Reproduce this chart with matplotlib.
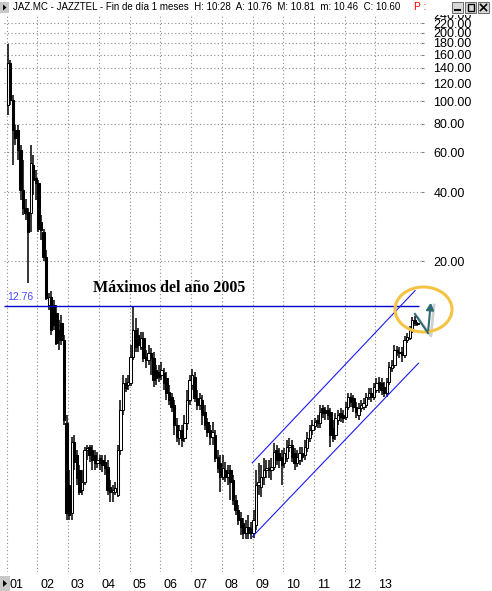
import matplotlib
matplotlib.use('Agg')
import matplotlib.pyplot as plt
import matplotlib.transforms as mtransforms
from matplotlib.patches import Ellipse, Rectangle, Polygon, FancyArrowPatch
from matplotlib.lines import Line2D
from matplotlib.ticker import FixedLocator, NullLocator, FixedFormatter
import numpy as np

plt.rcParams['font.family'] = ['Liberation Sans', 'DejaVu Sans']

# ---------------- data (monthly candles, Jan 2001 .. May 2014) ----------------
opens = [96.0, 146.5, 101.0, 74.7, 74.7, 61.1, 40.8, 34.1, 32.7, 32.4, 52.5, 46.1,
         43.8, 29.6, 26.8, 20.8, 12.85, 13.9, 12.85, 11.86, 9.99, 10.72, 9.04, 3.92,
         2.10, 1.59, 3.25, 2.85, 2.45, 2.00, 2.17, 2.99, 3.09, 2.99, 2.85, 2.62,
         2.76, 2.71, 2.65, 2.52, 2.06, 1.96, 1.96, 1.90, 2.99, 4.47, 5.87, 5.75,
         5.87, 7.61, 9.99, 9.50, 8.43, 9.22, 7.61, 7.39, 7.93, 7.54, 6.68, 6.55,
         6.36, 6.49, 6.17, 5.36, 5.10, 4.70, 3.85, 3.38, 3.66, 3.38, 3.92, 4.94,
         5.75, 6.23, 5.04, 4.70, 4.94, 4.38, 3.96, 3.66, 3.41, 3.48, 2.79, 2.62,
         2.28, 2.45, 2.28, 2.45, 2.21, 1.81, 1.64, 1.51, 1.44, 1.30, 1.38, 1.37,
         1.30, 1.41, 2.10, 2.06, 2.28, 2.45, 2.50, 2.45, 2.52, 2.99, 2.91, 2.79,
         2.62, 2.76, 3.09, 3.15, 2.91, 2.62, 2.71, 2.91, 2.85, 3.05, 3.38, 3.66,
         3.81, 4.04, 3.92, 4.56, 4.47, 4.47, 4.38, 3.73, 3.48, 4.04, 4.34, 4.25,
         4.16, 4.61, 5.10, 5.04, 4.61, 4.25, 4.56, 4.61, 4.70, 5.10, 5.31, 5.10,
         5.47, 5.93, 5.87, 5.64, 5.31, 5.93, 6.82, 7.03, 8.17, 8.01, 8.01, 7.77,
         9.04, 9.22, 9.99, 11.05, 10.76]
highs = [179, 151, 106.2, 78.5, 78.5, 64.2, 55.2, 37.6, 34.1, 64.2, 58.1, 49.9,
         45.2, 31.8, 27.8, 22.3, 14.6, 14.9, 13.5, 12.85, 11.05, 11.62, 9.50, 4.25,
         2.45, 3.41, 3.48, 2.99, 2.57, 2.45, 3.09, 3.15, 3.15, 3.15, 2.99, 2.93,
         2.85, 2.85, 2.85, 2.71, 2.21, 2.10, 2.17, 3.15, 4.94, 6.36, 6.17, 6.36,
         8.60, 12.76, 11.28, 10.2, 9.79, 9.79, 8.17, 8.60, 8.34, 8.01, 7.03, 7.03,
         7.25, 6.82, 6.55, 5.75, 5.31, 4.94, 4.12, 3.85, 3.85, 4.25, 5.47, 6.36,
         6.75, 6.55, 5.47, 5.31, 5.20, 4.70, 4.12, 3.85, 3.96, 3.66, 2.99, 2.85,
         2.85, 2.65, 2.57, 2.57, 2.33, 1.90, 1.72, 1.61, 1.51, 1.48, 1.56, 1.45,
         1.64, 2.45, 2.62, 2.57, 2.76, 2.71, 2.71, 2.76, 3.21, 3.15, 3.05, 2.99,
         3.05, 3.31, 3.38, 3.31, 3.05, 2.99, 3.09, 3.09, 3.31, 3.59, 3.85, 4.04,
         4.12, 4.25, 4.70, 4.70, 4.61, 4.70, 4.56, 4.04, 4.34, 4.47, 4.56, 4.47,
         4.84, 5.31, 5.31, 5.20, 4.84, 4.79, 4.94, 5.04, 5.31, 5.58, 5.58, 5.87,
         6.17, 6.23, 6.17, 5.93, 6.17, 7.25, 7.39, 8.60, 8.51, 8.43, 8.43, 9.40,
         9.69, 10.40, 11.40, 11.51, 10.81]
lows = [86.8, 96.0, 52.5, 64.2, 55.2, 36.9, 31.8, 30.2, 16.0, 26.8, 38.8, 36.9,
        26.8, 24.7, 20.0, 13.5, 12.22, 9.50, 9.99, 8.60, 8.17, 8.60, 3.85, 1.48,
        1.48, 1.48, 2.45, 2.10, 1.90, 1.90, 2.10, 2.71, 2.65, 2.45, 2.45, 2.50,
        2.45, 2.40, 2.33, 1.90, 1.77, 1.77, 1.90, 1.86, 2.85, 4.25, 5.36, 5.47,
        5.69, 7.39, 8.01, 8.01, 8.17, 7.25, 6.82, 7.03, 6.36, 5.64, 5.75, 5.93,
        6.05, 5.47, 4.94, 4.70, 4.38, 3.48, 3.25, 3.15, 3.09, 3.25, 3.66, 4.70,
        5.47, 4.84, 4.47, 4.47, 3.85, 3.66, 3.41, 3.15, 3.15, 2.65, 2.38, 1.96,
        2.21, 2.17, 2.10, 1.81, 1.72, 1.56, 1.41, 1.27, 1.22, 1.22, 1.22, 1.22,
        1.23, 1.34, 1.90, 1.86, 2.10, 2.26, 2.26, 2.21, 2.45, 2.57, 2.50, 2.10,
        2.50, 2.65, 2.93, 2.65, 2.45, 2.52, 2.57, 2.65, 2.71, 2.93, 3.25, 3.48,
        3.66, 3.73, 3.73, 4.12, 4.04, 4.04, 3.09, 3.25, 3.31, 3.85, 3.96, 3.92,
        4.04, 4.47, 4.61, 4.38, 4.12, 4.04, 4.38, 4.47, 4.56, 4.94, 4.84, 4.94,
        5.31, 5.31, 5.20, 5.10, 5.10, 5.75, 6.55, 6.82, 7.69, 7.54, 7.25, 7.54,
        8.77, 9.04, 9.69, 10.40, 10.46]
closes = [146.5, 101.0, 74.7, 68.9, 61.1, 40.8, 34.1, 32.4, 26.8, 53.6, 45.2, 43.8,
          27.8, 27.3, 20.8, 13.8, 13.9, 9.99, 10.51, 8.77, 9.04, 9.04, 4.04, 1.59,
          1.56, 3.25, 2.65, 2.26, 1.96, 2.17, 2.99, 3.05, 2.85, 2.71, 2.62, 2.71,
          2.62, 2.57, 2.50, 2.00, 1.96, 2.00, 2.04, 2.99, 4.47, 5.87, 5.58, 5.93,
          7.61, 9.99, 8.43, 8.60, 9.22, 7.54, 7.39, 7.93, 7.54, 6.05, 6.17, 6.23,
          6.68, 5.87, 5.31, 4.94, 4.61, 3.85, 3.41, 3.66, 3.31, 3.92, 4.94, 6.05,
          6.36, 5.04, 4.70, 5.04, 4.25, 3.85, 3.59, 3.41, 3.59, 2.76, 2.50, 2.28,
          2.50, 2.28, 2.38, 2.17, 1.81, 1.64, 1.48, 1.38, 1.30, 1.38, 1.30, 1.30,
          1.48, 2.10, 2.17, 2.28, 2.45, 2.50, 2.45, 2.52, 2.93, 2.71, 2.71, 2.57,
          2.91, 3.09, 3.15, 2.79, 2.62, 2.79, 2.91, 2.79, 3.09, 3.38, 3.66, 3.85,
          3.96, 3.92, 4.38, 4.34, 4.34, 4.25, 3.48, 3.38, 4.12, 4.25, 4.16, 4.12,
          4.61, 5.10, 4.84, 4.61, 4.38, 4.56, 4.70, 4.79, 5.10, 5.31, 5.10, 5.64,
          5.87, 5.58, 5.47, 5.31, 5.93, 6.89, 7.03, 8.17, 8.01, 7.93, 7.77, 9.04,
          9.31, 9.99, 11.05, 10.72, 10.60]

year_labels = ['01', '02', '03', '04', '05', '06', '07', '08', '09', '10', '11', '12', '13']
ytick_values = [20, 40, 60, 80, 100, 120, 140, 160, 180, 200, 220, 240]
resistance_level = 12.76
channel_upper_months = [95.5, 159.1]
channel_upper_prices = [2.63, 14.9]
channel_lower_months = [95.5, 160.4]
channel_lower_prices = [1.25, 7.17]
title_text = "JAZ.MC - JAZZTEL - Fin de día 1 meses  H: 10:28  A: 10.76  M: 10.81  m: 10.46  C: 10.60"
annotation_text = "Máximos del año 2005"

# ---------------- figure ----------------
W, H = 492, 591
fig = plt.figure(figsize=(W / 100, H / 100), dpi=100)
fig.patch.set_facecolor('white')


def fx(px):
    return px / W


def fy(py):
    return 1 - py / H


ax = fig.add_axes([fx(4), fy(572), fx(421) - fx(4), fy(14) - fy(572)])
ax.set_yscale('log')
ax.set_ylim(0.877, 241.0)
ax.set_xlim(-1.45, 161.4)
for s in ax.spines.values():
    s.set_visible(False)

o = np.array(opens)
h = np.array(highs)
l = np.array(lows)
c = np.array(closes)
months = np.arange(len(c))
up = c >= o

# grid
grid_kw = dict(color='#8c8c8c', lw=0.8, ls=(0, (1, 2.2)), zorder=1)
for k in range(len(year_labels)):
    ax.axvline(12 * k - 0.4, **grid_kw)
for v in ytick_values:
    ax.axhline(v, **grid_kw)

# candles
ax.vlines(months, l, h, color='black', lw=1.1, zorder=3)
bottoms = np.minimum(o, c)
heights = np.maximum(o, c) - bottoms
ax.bar(months[up], heights[up], bottom=bottoms[up], width=0.92,
       color='white', edgecolor='black', lw=0.75, zorder=4)
ax.bar(months[~up], heights[~up], bottom=bottoms[~up], width=0.92,
       color='black', edgecolor='black', lw=0.75, zorder=4)

# resistance line and channel
ax.hlines(resistance_level, -1.45, 160.7, color='#0000cc', lw=1.0, zorder=5)
ax.plot(channel_upper_months, channel_upper_prices, color='#1a1aff', lw=0.8, zorder=5)
ax.plot(channel_lower_months, channel_lower_prices, color='#1a1aff', lw=0.8, zorder=5)

# y axis on the right
ax.yaxis.tick_right()
ax.yaxis.set_major_locator(FixedLocator(ytick_values))
ax.yaxis.set_major_formatter(FixedFormatter(['%.2f' % v for v in ytick_values]))
ax.yaxis.set_minor_locator(NullLocator())
ax.tick_params(axis='y', length=2, color='#808080', pad=7, labelsize=9, labelcolor='black')
ax.set_xticks([])

# x labels
trans = mtransforms.blended_transform_factory(ax.transData, ax.transAxes)
for k, lab in enumerate(year_labels):
    ax.text(12 * k - 0.4 + 1.1, -0.0235, lab, transform=trans, ha='left', va='center',
            fontsize=9, clip_on=False)

# level label and annotation
fig.text(fx(7), fy(297), '12.76', color='#4646ff', fontsize=7.5, ha='left', va='center')
fig.text(fx(93), fy(288), annotation_text, family='Liberation Serif', fontweight='bold',
         fontsize=11.5, ha='left', va='center')

# highlight ellipse and arrow
fig.patches.append(Ellipse((fx(423.5), fy(309.5)), 57 / W, 45 / H, transform=fig.transFigure,
                           fill=False, edgecolor='#f3c443', lw=2.2, zorder=6))
shadow = Line2D([fx(418), fx(431), fx(434)], [fy(318), fy(336), fy(305)],
                transform=fig.transFigure, color='#bdbdbd', lw=2.0, alpha=0.7, zorder=6)
fig.lines.append(shadow)
fig.lines.append(Line2D([fx(415), fx(428)], [fy(314), fy(333)], transform=fig.transFigure,
                        color='#2e6b73', lw=1.5, zorder=7))
fig.patches.append(FancyArrowPatch((fx(428), fy(333)), (fx(431), fy(300)),
                                   transform=fig.transFigure, arrowstyle='-|>,head_length=4,head_width=2.2',
                                   color='#2e6b73', lw=1.5, zorder=7, mutation_scale=1))

# title bar
fig.patches.append(Rectangle((0, fy(15)), 1, 15 / H, transform=fig.transFigure,
                             facecolor='white', edgecolor='none', zorder=8))
fig.patches.append(Rectangle((fx(0), fy(13)), 9 / W, 11 / H, transform=fig.transFigure,
                             facecolor='#c8c8c8', edgecolor='none', zorder=9))
fig.patches.append(Polygon([(fx(3), fy(4.5)), (fx(3), fy(10.5)), (fx(6.5), fy(7.5))], closed=True,
                           transform=fig.transFigure, facecolor='black', edgecolor='none', zorder=10))
fig.text(fx(13), fy(7.5), title_text, fontsize=7.05, ha='left', va='center', zorder=10)
fig.text(fx(414), fy(7.5), 'P :', fontsize=7.4, color='#ff0000', ha='left', va='center', zorder=10)
for bx, sym in [(452, '_'), (465, '□'), (478, '×')]:
    fig.patches.append(Rectangle((fx(bx), fy(13)), 11 / W, 11 / H, transform=fig.transFigure,
                                 facecolor='#d8d8d8', edgecolor='#555555', lw=0.6, zorder=9))
fig.lines.append(Line2D([fx(455), fx(460)], [fy(10), fy(10)], transform=fig.transFigure,
                        color='black', lw=1.5, zorder=10))
fig.patches.append(Rectangle((fx(467.5), fy(10.5)), 6 / W, 6 / H, transform=fig.transFigure,
                             facecolor='none', edgecolor='black', lw=1.0, zorder=10))
fig.lines.append(Line2D([fx(480.5), fx(486.5)], [fy(4.5), fy(10.5)], transform=fig.transFigure,
                        color='black', lw=1.2, zorder=10))
fig.lines.append(Line2D([fx(480.5), fx(486.5)], [fy(10.5), fy(4.5)], transform=fig.transFigure,
                        color='black', lw=1.2, zorder=10))

# bottom-left small box
fig.patches.append(Rectangle((fx(0), fy(591)), 10 / W, 15 / H, transform=fig.transFigure,
                             facecolor='#c8c8c8', edgecolor='none', zorder=9))
fig.patches.append(Polygon([(fx(3), fy(580)), (fx(3), fy(587)), (fx(7), fy(583.5))], closed=True,
                           transform=fig.transFigure, facecolor='black', edgecolor='none', zorder=10))

fig.savefig('out.png', dpi=100)
